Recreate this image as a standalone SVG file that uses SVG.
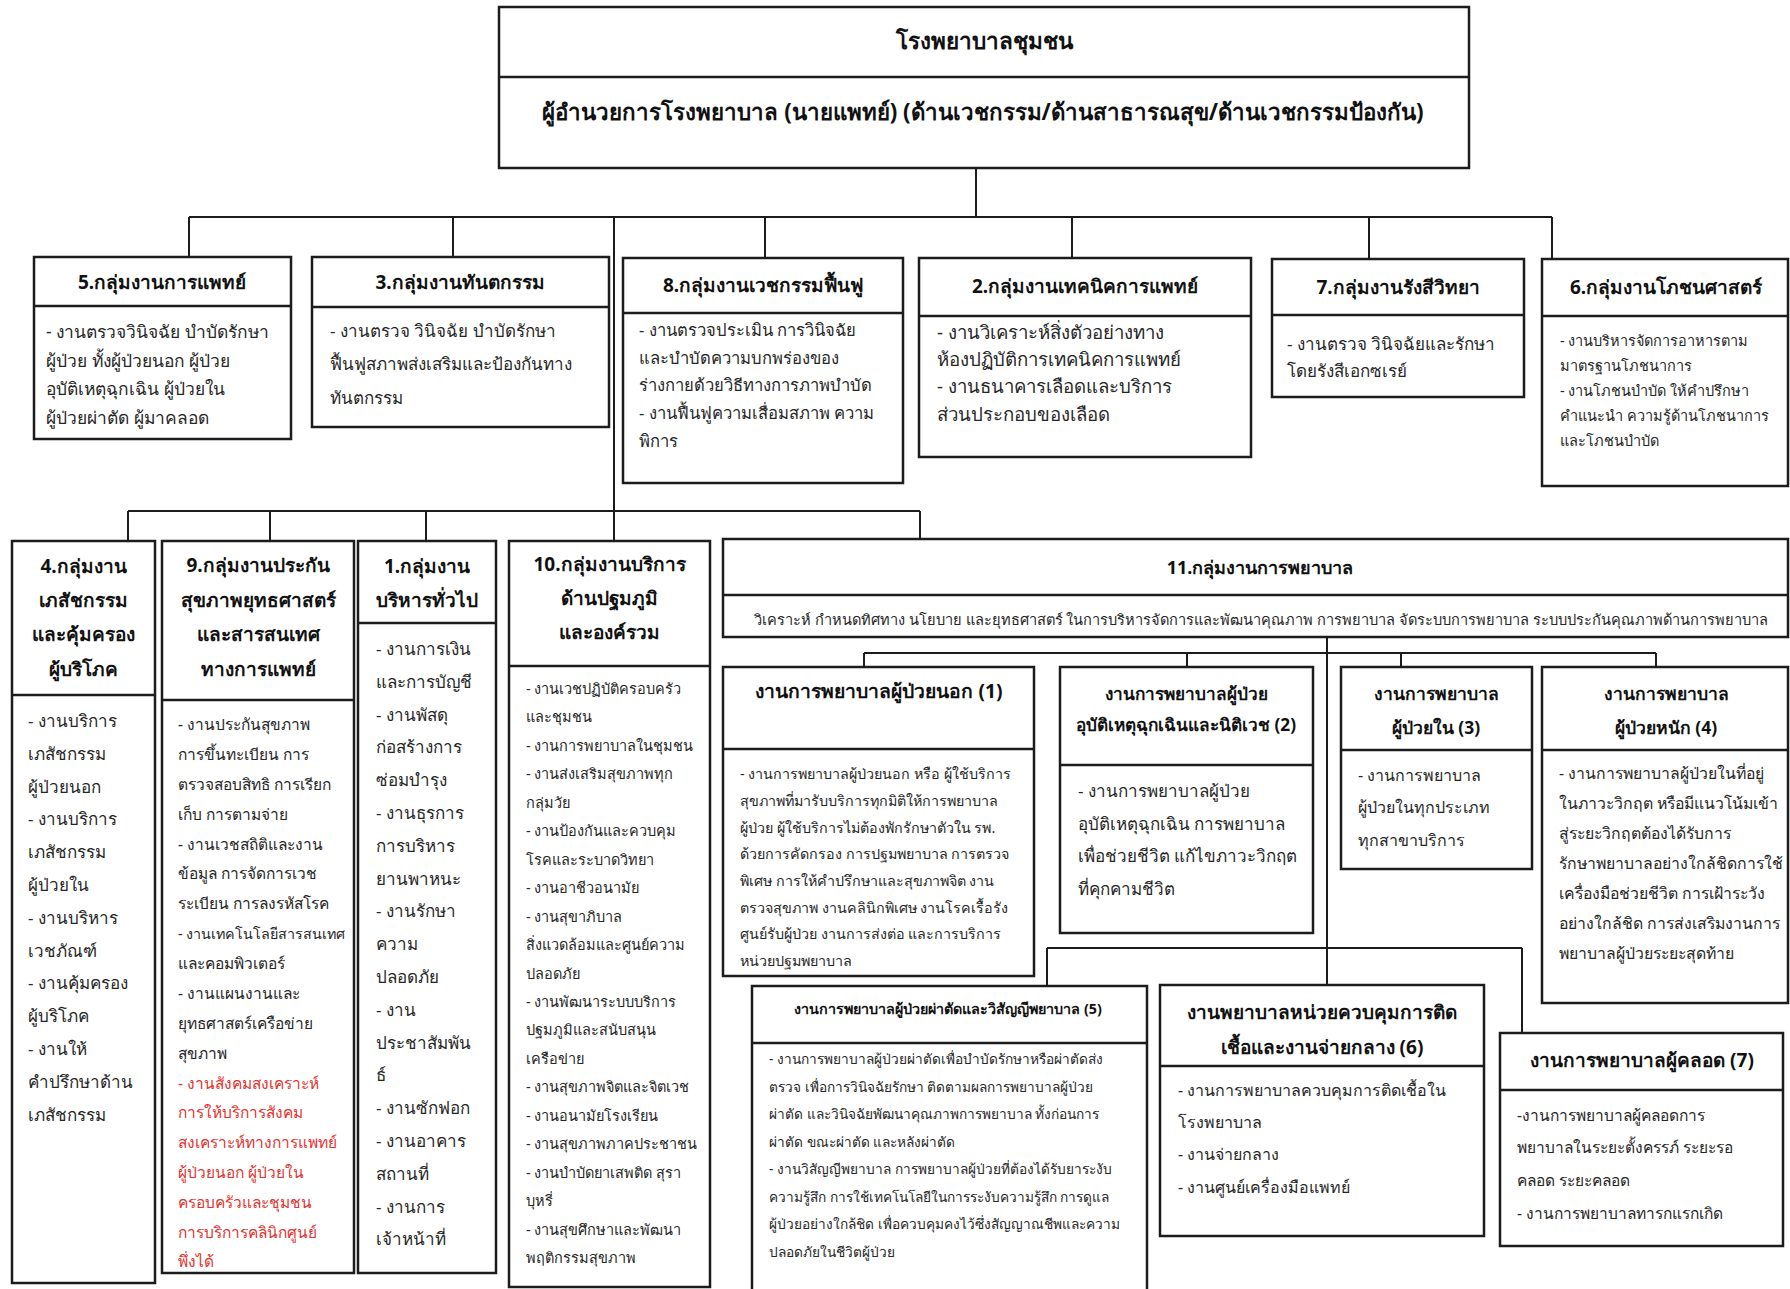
<svg xmlns="http://www.w3.org/2000/svg" width="1790" height="1289" viewBox="0 0 1790 1289">
<style>
text{font-family:"Noto Sans","DejaVu Sans",sans-serif;fill:#262626;dominant-baseline:central}
.box{fill:#fff;stroke:#1c1c1c;stroke-width:2.5}
.dv{stroke:#1c1c1c;stroke-width:2.5}
.h{font-weight:bold;text-anchor:middle;fill:#111}
.red{fill:#e3342f}
#connectors path{fill:none;stroke:#1c1c1c;stroke-width:2}
</style>
<rect width="1790" height="1289" fill="#fff"/>
<g id="connectors">
<path d="M976 168V217M189 217H1552M189 217V257M453 217V257M614 217V541M765 217V258M1072 217V258M1369 217V259M1552 217V259"/>
<path d="M128 511H920M128 511V541M270 511V541M426 511V541M920 511V539"/>
<path d="M1327 637V985M864 653H1656M864 653V667M1187 653V667M1401 653V667M1656 653V667M1047 948H1522M1047 948V986M1522 948V1033"/>
</g>
<g id="hospital">
<rect class="box" x="499" y="7" width="970" height="161"/>
<line class="dv" x1="499" y1="77" x2="1469" y2="77"/>
<text class="h" x="984" y="40" font-size="22.5">โรงพยาบาลชุมชน</text>
<text class="h" x="983" y="111" font-size="22.3">ผู้อำนวยการโรงพยาบาล (นายแพทย์) (ด้านเวชกรรม/ด้านสาธารณสุข/ด้านเวชกรรมป้องกัน)</text>
</g>
<g id="g5">
<rect class="box" x="34" y="257" width="257" height="182"/>
<line class="dv" x1="34" y1="306" x2="291" y2="306"/>
<text class="h" x="162" y="282" font-size="19">5.กลุ่มงานการแพทย์</text>
<text font-size="17.4"><tspan x="46" y="331">- งานตรวจวินิจฉัย บำบัดรักษา</tspan><tspan x="46" y="360">ผู้ป่วย ทั้งผู้ป่วยนอก ผู้ป่วย</tspan><tspan x="46" y="388">อุบัติเหตุฉุกเฉิน ผู้ป่วยใน</tspan><tspan x="46" y="417">ผู้ป่วยผ่าตัด ผู้มาคลอด</tspan></text>
</g>
<g id="g3">
<rect class="box" x="312" y="257" width="297" height="170"/>
<line class="dv" x1="312" y1="307" x2="609" y2="307"/>
<text class="h" x="460" y="282" font-size="19">3.กลุ่มงานทันตกรรม</text>
<text font-size="17"><tspan x="330" y="330">- งานตรวจ วินิจฉัย บำบัดรักษา</tspan><tspan x="330" y="363">ฟื้นฟูสภาพส่งเสริมและป้องกันทาง</tspan><tspan x="330" y="397">ทันตกรรม</tspan></text>
</g>
<g id="g8">
<rect class="box" x="623" y="258" width="280" height="225"/>
<line class="dv" x1="623" y1="313" x2="903" y2="313"/>
<text class="h" x="763" y="285" font-size="19">8.กลุ่มงานเวชกรรมฟื้นฟู</text>
<text font-size="16.6"><tspan x="639" y="329">- งานตรวจประเมิน การวินิจฉัย</tspan><tspan x="639" y="357">และบำบัดความบกพร่องของ</tspan><tspan x="639" y="384">ร่างกายด้วยวิธีทางการภาพบำบัด</tspan><tspan x="639" y="412">- งานฟื้นฟูความเสื่อมสภาพ ความ</tspan><tspan x="639" y="440">พิการ</tspan></text>
</g>
<g id="g2">
<rect class="box" x="919" y="258" width="332" height="199"/>
<line class="dv" x1="919" y1="316" x2="1251" y2="316"/>
<text class="h" x="1085" y="286" font-size="19">2.กลุ่มงานเทคนิคการแพทย์</text>
<text font-size="18.6"><tspan x="937" y="331">- งานวิเคราะห์สิ่งตัวอย่างทาง</tspan><tspan x="937" y="358">ห้องปฏิบัติการเทคนิคการแพทย์</tspan><tspan x="937" y="385">- งานธนาคารเลือดและบริการ</tspan><tspan x="937" y="413">ส่วนประกอบของเลือด</tspan></text>
</g>
<g id="g7">
<rect class="box" x="1272" y="259" width="252" height="138"/>
<line class="dv" x1="1272" y1="315" x2="1524" y2="315"/>
<text class="h" x="1398" y="287" font-size="19">7.กลุ่มงานรังสีวิทยา</text>
<text font-size="17"><tspan x="1287" y="343">- งานตรวจ วินิจฉัยและรักษา</tspan><tspan x="1287" y="370">โดยรังสีเอกซเรย์</tspan></text>
</g>
<g id="g6">
<rect class="box" x="1542" y="259" width="246" height="227"/>
<line class="dv" x1="1542" y1="316" x2="1788" y2="316"/>
<text class="h" x="1666" y="287" font-size="19">6.กลุ่มงานโภชนศาสตร์</text>
<text font-size="14.5"><tspan x="1560" y="340">- งานบริหารจัดการอาหารตาม</tspan><tspan x="1560" y="365">มาตรฐานโภชนาการ</tspan><tspan x="1560" y="390">- งานโภชนบำบัด ให้คำปรึกษา</tspan><tspan x="1560" y="415">คำแนะนำ ความรู้ด้านโภชนาการ</tspan><tspan x="1560" y="440">และโภชนบำบัด</tspan></text>
</g>
<g id="g4">
<rect class="box" x="12" y="541" width="143" height="742"/>
<line class="dv" x1="12" y1="695" x2="155" y2="695"/>
<text class="h" font-size="19"><tspan x="83.5" y="566">4.กลุ่มงาน</tspan><tspan x="83.5" y="600">เภสัชกรรม</tspan><tspan x="83.5" y="634">และคุ้มครอง</tspan><tspan x="83.5" y="669">ผู้บริโภค</tspan></text>
<text font-size="17"><tspan x="28" y="720">- งานบริการ</tspan><tspan x="28" y="753">เภสัชกรรม</tspan><tspan x="28" y="786">ผู้ป่วยนอก</tspan><tspan x="28" y="818">- งานบริการ</tspan><tspan x="28" y="851">เภสัชกรรม</tspan><tspan x="28" y="884">ผู้ป่วยใน</tspan><tspan x="28" y="917">- งานบริหาร</tspan><tspan x="28" y="950">เวชภัณฑ์</tspan><tspan x="28" y="982">- งานคุ้มครอง</tspan><tspan x="28" y="1015">ผู้บริโภค</tspan><tspan x="28" y="1048">- งานให้</tspan><tspan x="28" y="1081">คำปรึกษาด้าน</tspan><tspan x="28" y="1114">เภสัชกรรม</tspan></text>
</g>
<g id="g9">
<rect class="box" x="162" y="541" width="192" height="732"/>
<line class="dv" x1="162" y1="700" x2="354" y2="700"/>
<text class="h" font-size="19"><tspan x="258" y="565">9.กลุ่มงานประกัน</tspan><tspan x="258" y="600">สุขภาพยุทธศาสตร์</tspan><tspan x="258" y="634">และสารสนเทศ</tspan><tspan x="258" y="669">ทางการแพทย์</tspan></text>
<text font-size="15.5"><tspan x="178" y="724">- งานประกันสุขภาพ</tspan><tspan x="178" y="754">การขึ้นทะเบียน การ</tspan><tspan x="178" y="784">ตรวจสอบสิทธิ การเรียก</tspan><tspan x="178" y="814">เก็บ การตามจ่าย</tspan><tspan x="178" y="844">- งานเวชสถิติและงาน</tspan><tspan x="178" y="873">ข้อมูล การจัดการเวช</tspan><tspan x="178" y="903">ระเบียน การลงรหัสโรค</tspan><tspan x="178" y="933" font-size="14.3">- งานเทคโนโลยีสารสนเทศ</tspan><tspan x="178" y="963">และคอมพิวเตอร์</tspan><tspan x="178" y="993">- งานแผนงานและ</tspan><tspan x="178" y="1023">ยุทธศาสตร์เครือข่าย</tspan><tspan x="178" y="1053">สุขภาพ</tspan></text>
<text font-size="15.5" class="red"><tspan x="178" y="1083">- งานสังคมสงเคราะห์</tspan><tspan x="178" y="1112">การให้บริการสังคม</tspan><tspan x="178" y="1142">สงเคราะห์ทางการแพทย์</tspan><tspan x="178" y="1172">ผู้ป่วยนอก ผู้ป่วยใน</tspan><tspan x="178" y="1202">ครอบครัวและชุมชน</tspan><tspan x="178" y="1232">การบริการคลินิกศูนย์</tspan><tspan x="178" y="1261">พึ่งได้</tspan></text>
</g>
<g id="g1">
<rect class="box" x="358" y="541" width="138" height="732"/>
<line class="dv" x1="358" y1="623" x2="496" y2="623"/>
<text class="h" font-size="19"><tspan x="427" y="566">1.กลุ่มงาน</tspan><tspan x="427" y="600">บริหารทั่วไป</tspan></text>
<text font-size="17"><tspan x="376" y="648">- งานการเงิน</tspan><tspan x="376" y="681">และการบัญชี</tspan><tspan x="376" y="714">- งานพัสดุ</tspan><tspan x="376" y="746">ก่อสร้างการ</tspan><tspan x="376" y="779">ซ่อมบำรุง</tspan><tspan x="376" y="812">- งานธุรการ</tspan><tspan x="376" y="845">การบริหาร</tspan><tspan x="376" y="878">ยานพาหนะ</tspan><tspan x="376" y="910">- งานรักษา</tspan><tspan x="376" y="943">ความ</tspan><tspan x="376" y="976">ปลอดภัย</tspan><tspan x="376" y="1009">- งาน</tspan><tspan x="376" y="1042">ประชาสัมพัน</tspan><tspan x="376" y="1074">ธ์</tspan><tspan x="376" y="1107">- งานซักฟอก</tspan><tspan x="376" y="1140">- งานอาคาร</tspan><tspan x="376" y="1173">สถานที่</tspan><tspan x="376" y="1206">- งานการ</tspan><tspan x="376" y="1238">เจ้าหน้าที่</tspan></text>
</g>
<g id="g10">
<rect class="box" x="509" y="541" width="201" height="746"/>
<line class="dv" x1="509" y1="666" x2="710" y2="666"/>
<text class="h" font-size="19"><tspan x="609.5" y="564">10.กลุ่มงานบริการ</tspan><tspan x="609.5" y="598">ด้านปฐมภูมิ</tspan><tspan x="609.5" y="632">และองค์รวม</tspan></text>
<text font-size="14.5"><tspan x="526" y="688">- งานเวชปฏิบัติครอบครัว</tspan><tspan x="526" y="716">และชุมชน</tspan><tspan x="526" y="745">- งานการพยาบาลในชุมชน</tspan><tspan x="526" y="773">- งานส่งเสริมสุขภาพทุก</tspan><tspan x="526" y="802">กลุ่มวัย</tspan><tspan x="526" y="830">- งานป้องกันและควบคุม</tspan><tspan x="526" y="859">โรคและระบาดวิทยา</tspan><tspan x="526" y="887">- งานอาชีวอนามัย</tspan><tspan x="526" y="916">- งานสุขาภิบาล</tspan><tspan x="526" y="944">สิ่งแวดล้อมและศูนย์ความ</tspan><tspan x="526" y="973">ปลอดภัย</tspan><tspan x="526" y="1001">- งานพัฒนาระบบบริการ</tspan><tspan x="526" y="1029">ปฐมภูมิและสนับสนุน</tspan><tspan x="526" y="1058">เครือข่าย</tspan><tspan x="526" y="1086">- งานสุขภาพจิตและจิตเวช</tspan><tspan x="526" y="1115">- งานอนามัยโรงเรียน</tspan><tspan x="526" y="1143">- งานสุขภาพภาคประชาชน</tspan><tspan x="526" y="1172">- งานบำบัดยาเสพติด สุรา</tspan><tspan x="526" y="1200">บุหรี่</tspan><tspan x="526" y="1229">- งานสุขศึกษาและพัฒนา</tspan><tspan x="526" y="1257">พฤติกรรมสุขภาพ</tspan></text>
</g>
<g id="g11">
<rect class="box" x="723" y="539" width="1065" height="98"/>
<line class="dv" x1="723" y1="595" x2="1788" y2="595"/>
<text class="h" x="1260" y="567" font-size="18">11.กลุ่มงานการพยาบาล</text>
<text x="1261" y="619" font-size="14.6" text-anchor="middle">วิเคราะห์ กำหนดทิศทาง นโยบาย และยุทธศาสตร์ ในการบริหารจัดการและพัฒนาคุณภาพ การพยาบาล จัดระบบการพยาบาล ระบบประกันคุณภาพด้านการพยาบาล</text>
</g>
<g id="n1">
<rect class="box" x="723" y="667" width="311" height="309"/>
<line class="dv" x1="723" y1="749" x2="1034" y2="749"/>
<text class="h" x="879" y="690" font-size="19.3">งานการพยาบาลผู้ป่วยนอก (1)</text>
<text font-size="14.3"><tspan x="740" y="773">- งานการพยาบาลผู้ป่วยนอก หรือ ผู้ใช้บริการ</tspan><tspan x="740" y="800">สุขภาพที่มารับบริการทุกมิติให้การพยาบาล</tspan><tspan x="740" y="827">ผู้ป่วย ผู้ใช้บริการไม่ต้องพักรักษาตัวใน รพ.</tspan><tspan x="740" y="853">ด้วยการคัดกรอง การปฐมพยาบาล การตรวจ</tspan><tspan x="740" y="880">พิเศษ การให้คำปรึกษาและสุขภาพจิต งาน</tspan><tspan x="740" y="907">ตรวจสุขภาพ งานคลินิกพิเศษ งานโรคเรื้อรัง</tspan><tspan x="740" y="933">ศูนย์รับผู้ป่วย งานการส่งต่อ และการบริการ</tspan><tspan x="740" y="960">หน่วยปฐมพยาบาล</tspan></text>
</g>
<g id="n2">
<rect class="box" x="1060" y="667" width="253" height="266"/>
<line class="dv" x1="1060" y1="765" x2="1313" y2="765"/>
<text class="h" font-size="17.2"><tspan x="1186" y="693">งานการพยาบาลผู้ป่วย</tspan><tspan x="1186" y="724">อุบัติเหตุฉุกเฉินและนิติเวช (2)</tspan></text>
<text font-size="17"><tspan x="1078" y="790">- งานการพยาบาลผู้ป่วย</tspan><tspan x="1078" y="823">อุบัติเหตุฉุกเฉิน การพยาบาล</tspan><tspan x="1078" y="855">เพื่อช่วยชีวิต แก้ไขภาวะวิกฤต</tspan><tspan x="1078" y="888">ที่คุกคามชีวิต</tspan></text>
</g>
<g id="n3">
<rect class="box" x="1341" y="667" width="191" height="202"/>
<line class="dv" x1="1341" y1="750" x2="1532" y2="750"/>
<text class="h" font-size="17.5"><tspan x="1436" y="693">งานการพยาบาล</tspan><tspan x="1436" y="727">ผู้ป่วยใน (3)</tspan></text>
<text font-size="16"><tspan x="1358" y="775">- งานการพยาบาล</tspan><tspan x="1358" y="807">ผู้ป่วยในทุกประเภท</tspan><tspan x="1358" y="840">ทุกสาขาบริการ</tspan></text>
</g>
<g id="n4">
<rect class="box" x="1542" y="667" width="246" height="336"/>
<line class="dv" x1="1542" y1="750" x2="1788" y2="750"/>
<text class="h" font-size="17.5"><tspan x="1666" y="693">งานการพยาบาล</tspan><tspan x="1666" y="727">ผู้ป่วยหนัก (4)</tspan></text>
<text font-size="15.8"><tspan x="1559" y="773">- งานการพยาบาลผู้ป่วยในที่อยู่</tspan><tspan x="1559" y="803">ในภาวะวิกฤต หรือมีแนวโน้มเข้า</tspan><tspan x="1559" y="833">สู่ระยะวิกฤตต้องได้รับการ</tspan><tspan x="1559" y="863">รักษาพยาบาลอย่างใกล้ชิดการใช้</tspan><tspan x="1559" y="893">เครื่องมือช่วยชีวิต การเฝ้าระวัง</tspan><tspan x="1559" y="923">อย่างใกล้ชิด การส่งเสริมงานการ</tspan><tspan x="1559" y="953">พยาบาลผู้ป่วยระยะสุดท้าย</tspan></text>
</g>
<g id="n5">
<rect class="box" x="752" y="986" width="395" height="310"/>
<line class="dv" x1="752" y1="1043" x2="1147" y2="1043"/>
<text class="h" x="948" y="1008" font-size="14.3">งานการพยาบาลผู้ป่วยผ่าตัดและวิสัญญีพยาบาล (5)</text>
<text font-size="13.7"><tspan x="769" y="1058">- งานการพยาบาลผู้ป่วยผ่าตัดเพื่อบำบัดรักษาหรือผ่าตัดส่ง</tspan><tspan x="769" y="1086">ตรวจ เพื่อการวินิจฉัยรักษา ติดตามผลการพยาบาลผู้ป่วย</tspan><tspan x="769" y="1113">ผ่าตัด และวินิจฉัยพัฒนาคุณภาพการพยาบาล ทั้งก่อนการ</tspan><tspan x="769" y="1141">ผ่าตัด ขณะผ่าตัด และหลังผ่าตัด</tspan><tspan x="769" y="1168">- งานวิสัญญีพยาบาล การพยาบาลผู้ป่วยที่ต้องได้รับยาระงับ</tspan><tspan x="769" y="1196">ความรู้สึก การใช้เทคโนโลยีในการระงับความรู้สึก การดูแล</tspan><tspan x="769" y="1223">ผู้ป่วยอย่างใกล้ชิด เพื่อควบคุมคงไว้ซึ่งสัญญาณชีพและความ</tspan><tspan x="769" y="1251">ปลอดภัยในชีวิตผู้ป่วย</tspan></text>
</g>
<g id="n6">
<rect class="box" x="1160" y="985" width="324" height="251"/>
<line class="dv" x1="1160" y1="1066" x2="1484" y2="1066"/>
<text class="h" font-size="19"><tspan x="1322" y="1012">งานพยาบาลหน่วยควบคุมการติด</tspan><tspan x="1322" y="1047">เชื้อและงานจ่ายกลาง (6)</tspan></text>
<text font-size="16"><tspan x="1178" y="1090">- งานการพยาบาลควบคุมการติดเชื้อใน</tspan><tspan x="1178" y="1122">โรงพยาบาล</tspan><tspan x="1178" y="1154">- งานจ่ายกลาง</tspan><tspan x="1178" y="1187">- งานศูนย์เครื่องมือแพทย์</tspan></text>
</g>
<g id="n7">
<rect class="box" x="1500" y="1033" width="283" height="213"/>
<line class="dv" x1="1500" y1="1090" x2="1783" y2="1090"/>
<text class="h" x="1642" y="1060" font-size="19">งานการพยาบาลผู้คลอด (7)</text>
<text font-size="15.5"><tspan x="1517" y="1115">-งานการพยาบาลผู้คลอดการ</tspan><tspan x="1517" y="1147">พยาบาลในระยะตั้งครรภ์ ระยะรอ</tspan><tspan x="1517" y="1180">คลอด ระยะคลอด</tspan><tspan x="1517" y="1213">- งานการพยาบาลทารกแรกเกิด</tspan></text>
</g>
</svg>
